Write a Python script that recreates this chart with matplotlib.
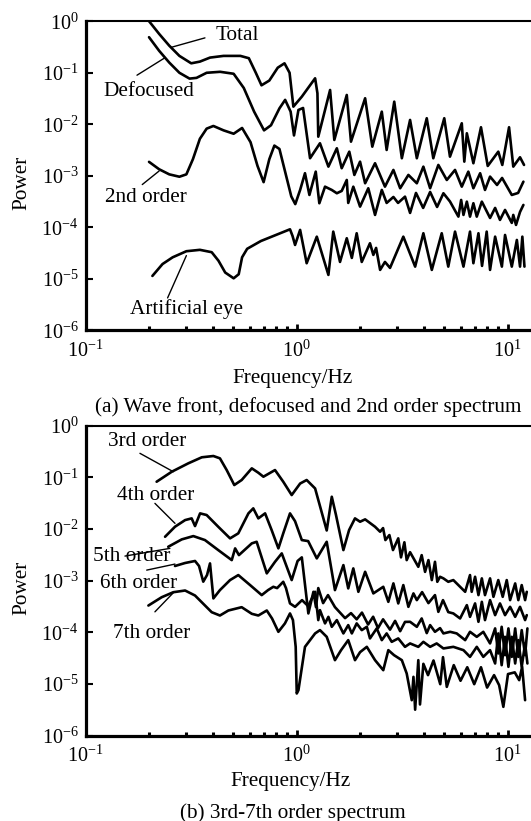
import numpy as np
import matplotlib
matplotlib.use('Agg')
import matplotlib.pyplot as plt
from matplotlib.ticker import LogLocator, NullFormatter, NullLocator

plt.rcParams['font.family'] = ['Liberation Serif', 'DejaVu Serif']
plt.rcParams['mathtext.fontset'] = 'custom'
plt.rcParams['mathtext.rm'] = 'Liberation Serif'
plt.rcParams['mathtext.it'] = 'Liberation Serif:italic'
plt.rcParams['mathtext.bf'] = 'Liberation Serif:bold'

# ---------------- data (log10 frequency / log10 power) ----------
# Panel (a)
total_logf = [-0.715, -0.651, -0.603, -0.555, -0.499, -0.458, -0.410, -0.346, -0.266, -0.226,
              -0.193, -0.166, -0.129, -0.089, -0.057, -0.033, -0.015, 0.025, 0.088, 0.099,
              0.103, 0.159, 0.179, 0.238, 0.258, 0.325, 0.359, 0.404, 0.427, 0.463,
              0.499, 0.538, 0.570, 0.617, 0.648, 0.700, 0.727, 0.783, 0.795, 0.807,
              0.838, 0.874, 0.906, 0.956, 0.975, 1.007, 1.027, 1.059, 1.078]
total_logp = [0.085, -0.245, -0.474, -0.672, -0.816, -0.783, -0.705, -0.672, -0.672, -0.717,
              -1.0, -1.243, -1.151, -0.901, -0.816, -1.0, -1.658, -1.464, -1.107, -1.398,
              -2.241, -1.334, -2.305, -1.431, -2.338, -1.495, -2.435, -1.755, -2.499, -1.561,
              -2.660, -1.916, -2.660, -1.883, -2.660, -1.883, -2.629, -1.981, -2.726, -2.175,
              -2.757, -2.058, -2.810, -2.532, -2.790, -2.058, -2.823, -2.641, -2.790]

defoc_logf = [-0.699, -0.651, -0.603, -0.555, -0.507, -0.474, -0.426, -0.362, -0.298, -0.250,
              -0.201, -0.154, -0.121, -0.081, -0.054, -0.028, -0.012, 0.009, 0.031, 0.064,
              0.111, 0.151, 0.191, 0.214, 0.250, 0.274, 0.301, 0.325, 0.372, 0.419,
              0.459, 0.491, 0.530, 0.570, 0.601, 0.633, 0.672, 0.712, 0.751, 0.783,
              0.814, 0.838, 0.870, 0.893, 0.917, 0.950, 0.974, 1.020, 1.050, 1.075]
defoc_logp = [-0.309, -0.573, -0.802, -1.0, -1.113, -1.099, -1.0, -0.981, -1.019, -1.295,
              -1.755, -2.118, -2.019, -1.691, -1.526, -1.755, -2.217, -1.722, -1.684, -2.660,
              -2.369, -2.823, -2.466, -2.854, -2.532, -2.984, -2.726, -3.146, -2.757, -3.212,
              -2.887, -3.243, -2.984, -3.146, -2.823, -3.243, -2.790, -3.082, -2.887, -3.212,
              -2.920, -3.243, -2.951, -3.276, -3.017, -3.179, -3.043, -3.373, -3.334, -3.115]

ord2_logf = [-0.699, -0.651, -0.603, -0.555, -0.522, -0.491, -0.458, -0.426, -0.394, -0.346,
             -0.298, -0.258, -0.218, -0.185, -0.156, -0.129, -0.105, -0.081, -0.049, -0.025,
             -0.006, 0.017, 0.040, 0.061, 0.091, 0.108, 0.135, 0.167, 0.191, 0.214,
             0.238, 0.245, 0.269, 0.301, 0.340, 0.372, 0.404, 0.427, 0.459, 0.481,
             0.514, 0.538, 0.566, 0.600, 0.633, 0.666, 0.696, 0.727, 0.767, 0.780,
             0.791, 0.807, 0.822, 0.838, 0.854, 0.878, 0.917, 0.941, 0.964, 0.988,
             1.020, 1.027, 1.040, 1.059, 1.075]
ord2_logp = [-2.730, -2.874, -2.973, -3.019, -2.973, -2.678, -2.282, -2.085, -2.033, -2.118,
             -2.184, -2.072, -2.348, -2.808, -3.124, -2.678, -2.414, -2.480, -3.006, -3.400,
             -3.551, -3.276, -2.951, -3.373, -2.920, -3.534, -3.212, -3.276, -3.340, -3.295,
             -3.082, -3.528, -3.212, -3.600, -3.243, -3.761, -3.276, -3.528, -3.412, -3.528,
             -3.406, -3.722, -3.334, -3.625, -3.315, -3.606, -3.340, -3.500, -3.794, -3.470,
             -3.761, -3.503, -3.794, -3.534, -3.794, -3.503, -3.820, -3.625, -3.858, -3.664,
             -3.916, -3.761, -3.955, -3.703, -3.567]

eye_logf = [-0.683, -0.635, -0.587, -0.522, -0.458, -0.402, -0.370, -0.338, -0.298, -0.274,
            -0.258, -0.234, -0.169, -0.089, -0.031, -0.019, -0.007, 0.017, 0.048, 0.096,
            0.151, 0.174, 0.206, 0.238, 0.262, 0.285, 0.309, 0.348, 0.364, 0.377,
            0.396, 0.419, 0.443, 0.506, 0.562, 0.601, 0.641, 0.688, 0.719, 0.751,
            0.791, 0.822, 0.838, 0.862, 0.879, 0.901, 0.917, 0.941, 0.973, 0.988,
            1.020, 1.044, 1.059, 1.070, 1.080]
eye_logp = [-4.946, -4.715, -4.584, -4.466, -4.439, -4.485, -4.650, -4.880, -4.992, -4.913,
            -4.584, -4.419, -4.268, -4.136, -4.040, -4.169, -4.344, -4.052, -4.699, -4.183,
            -4.926, -4.085, -4.674, -4.214, -4.596, -4.117, -4.674, -4.311, -4.538, -4.402,
            -4.829, -4.674, -4.790, -4.183, -4.765, -4.117, -4.829, -4.117, -4.765, -4.085,
            -4.765, -4.085, -4.699, -4.117, -4.751, -4.085, -4.829, -4.183, -4.765, -4.150,
            -4.765, -4.247, -4.765, -4.183, -4.765]

# Panel (b)
ord3_logf = [-0.663, -0.591, -0.513, -0.449, -0.394, -0.363, -0.331, -0.295, -0.260, -0.212,
             -0.181, -0.157, -0.102, -0.063, -0.023, 0.017, 0.048, 0.088, 0.143, 0.167,
             0.187, 0.222, 0.249, 0.277, 0.301, 0.325, 0.372, 0.396, 0.410, 0.421,
             0.440, 0.457, 0.482, 0.495, 0.511, 0.522, 0.538, 0.577, 0.593, 0.609,
             0.625, 0.641, 0.656, 0.667, 0.680, 0.696, 0.719, 0.743, 0.775, 0.799,
             0.822, 0.830, 0.846, 0.862, 0.878, 0.893, 0.917, 0.933, 0.956, 0.977,
             0.996, 1.012, 1.036, 1.051, 1.067, 1.083, 1.091]
ord3_logp = [-1.085, -0.891, -0.729, -0.612, -0.587, -0.632, -0.859, -1.149, -1.052, -0.826,
             -0.911, -0.988, -0.859, -1.085, -1.343, -1.120, -1.052, -1.215, -2.029, -1.376,
             -1.731, -2.409, -2.021, -1.795, -1.860, -1.814, -1.957, -2.054, -1.983, -2.215,
             -2.118, -2.409, -2.182, -2.550, -2.258, -2.603, -2.450, -2.733, -2.507, -2.831,
             -2.603, -2.990, -2.636, -3.023, -2.926, -2.957, -3.023, -2.990, -3.120, -3.217,
             -2.893, -3.217, -2.926, -3.281, -2.957, -3.281, -2.957, -3.314, -2.990, -3.314,
             -2.990, -3.378, -3.055, -3.378, -3.087, -3.378, -3.217]

ord4_logf = [-0.623, -0.576, -0.528, -0.497, -0.481, -0.457, -0.426, -0.371, -0.315, -0.276,
             -0.228, -0.205, -0.181, -0.149, -0.118, -0.086, -0.063, -0.031, -0.007, 0.025,
             0.055, 0.096, 0.143, 0.182, 0.222, 0.245, 0.269, 0.293, 0.325, 0.364,
             0.411, 0.435, 0.459, 0.482, 0.506, 0.530, 0.554, 0.570, 0.595, 0.625,
             0.656, 0.672, 0.694, 0.719, 0.743, 0.775, 0.807, 0.822, 0.846, 0.862,
             0.878, 0.893, 0.917, 0.941, 0.964, 0.988, 1.012, 1.036, 1.059, 1.083, 1.091]
ord4_logp = [-2.151, -1.957, -1.828, -1.795, -1.944, -1.698, -1.730, -1.957, -2.182, -2.085,
             -1.698, -1.601, -1.795, -1.698, -2.021, -2.376, -2.085, -1.698, -1.850, -2.215,
             -2.235, -2.570, -2.248, -3.184, -2.700, -3.151, -2.764, -3.217, -2.829, -3.248,
             -3.120, -3.411, -3.054, -3.442, -3.087, -3.508, -3.248, -3.378, -3.223, -3.436,
             -3.281, -3.605, -3.378, -3.610, -3.636, -3.733, -3.475, -3.702, -3.442, -3.798,
             -3.411, -3.765, -3.378, -3.669, -3.442, -3.669, -3.508, -3.702, -3.508, -3.765, -3.669]

ord5_logf = [-0.608, -0.544, -0.489, -0.434, -0.371, -0.307, -0.291, -0.273, -0.212, -0.189,
             -0.141, -0.102, -0.070, -0.023, 0.005, 0.025, 0.056, 0.080, 0.092, 0.103,
             0.126, 0.149, 0.182, 0.230, 0.258, 0.285, 0.310, 0.339, 0.363, 0.386,
             0.410, 0.443, 0.467, 0.491, 0.514, 0.538, 0.570, 0.593, 0.617, 0.633,
             0.656, 0.680, 0.696, 0.728, 0.759, 0.799, 0.822, 0.854, 0.885, 0.917,
             0.941, 0.956, 0.972, 0.988, 1.004, 1.020, 1.036, 1.051, 1.067, 1.083, 1.094]
ord5_logp = [-2.345, -2.202, -2.138, -2.215, -2.409, -2.603, -2.376, -2.506, -2.279, -2.248,
             -2.860, -2.636, -2.473, -2.990, -2.620, -2.550, -3.636, -3.217, -3.513, -3.145,
             -3.436, -3.281, -3.513, -3.727, -3.630, -3.750, -3.620, -3.850, -3.700, -3.920,
             -3.750, -3.950, -3.780, -3.980, -3.800, -3.798, -3.895, -3.733, -4.017, -3.862,
             -3.992, -3.920, -4.023, -3.992, -4.023, -4.153, -3.992, -4.089, -3.992, -4.217,
             -3.926, -4.411, -3.895, -4.444, -3.926, -4.477, -3.926, -4.477, -3.959, -4.444, -3.926]

ord6_logf = [-0.576, -0.528, -0.481, -0.462, -0.442, -0.424, -0.410, -0.394, -0.363, -0.315,
             -0.276, -0.220, -0.165, -0.135, -0.110, -0.092, -0.063, -0.050, -0.031, -0.007,
             0.026, 0.055, 0.088, 0.103, 0.111, 0.135, 0.151, 0.167, 0.191, 0.222,
             0.245, 0.262, 0.285, 0.309, 0.333, 0.348, 0.380, 0.404, 0.427, 0.451,
             0.482, 0.514, 0.538, 0.577, 0.601, 0.633, 0.664, 0.696, 0.743, 0.791,
             0.822, 0.854, 0.885, 0.917, 0.941, 0.956, 0.972, 0.988, 1.004, 1.020,
             1.036, 1.051, 1.067, 1.083, 1.094]
ord6_logp = [-2.717, -2.659, -2.620, -2.717, -3.021, -2.891, -2.667, -3.345, -3.184, -2.990,
             -2.893, -3.087, -3.281, -3.184, -3.120, -3.145, -3.023, -3.145, -3.442, -3.508,
             -3.378, -3.494, -3.217, -3.765, -3.572, -3.829, -3.702, -3.895, -3.765, -4.023,
             -3.862, -4.023, -3.829, -3.959, -3.895, -4.120, -3.926, -4.153, -4.023, -4.186,
             -4.120, -4.283, -4.217, -4.283, -4.186, -4.283, -4.217, -4.314, -4.283, -4.347,
             -4.477, -4.283, -4.477, -4.347, -4.605, -4.023, -4.638, -4.089, -4.670, -4.089,
             -4.605, -4.153, -4.670, -4.217, -4.605]

ord7_logf = [-0.702, -0.639, -0.584, -0.528, -0.481, -0.402, -0.363, -0.323, -0.260, -0.212,
             -0.181, -0.141, -0.116, -0.086, -0.055, -0.031, -0.017, -0.004, 0.001, 0.009,
             0.040, 0.088, 0.111, 0.143, 0.182, 0.211, 0.245, 0.277, 0.301, 0.333,
             0.372, 0.411, 0.435, 0.462, 0.499, 0.522, 0.546, 0.554, 0.562, 0.577,
             0.585, 0.601, 0.623, 0.649, 0.681, 0.694, 0.712, 0.745, 0.777, 0.809,
             0.842, 0.874, 0.903, 0.936, 0.960, 0.980, 1.002, 1.034, 1.055, 1.069, 1.083]
ord7_logp = [-3.483, -3.322, -3.225, -3.192, -3.289, -3.612, -3.676, -3.579, -3.515, -3.643,
             -3.676, -3.579, -3.734, -3.992, -3.829, -3.636, -3.765, -4.283, -5.186, -5.122,
             -4.283, -4.023, -3.959, -4.089, -4.541, -4.347, -4.153, -4.541, -4.386, -4.283,
             -4.541, -4.735, -4.347, -4.444, -4.541, -4.799, -5.316, -4.864, -5.500, -4.541,
             -5.399, -4.612, -4.831, -4.547, -5.006, -4.483, -5.058, -4.637, -4.940, -4.678,
             -5.006, -4.678, -5.072, -4.831, -5.025, -5.445, -4.810, -4.777, -4.928, -4.670, -5.316]

top_series = [(total_logf, total_logp), (defoc_logf, defoc_logp),
              (ord2_logf, ord2_logp), (eye_logf, eye_logp)]
bot_series = [(ord3_logf, ord3_logp), (ord4_logf, ord4_logp), (ord5_logf, ord5_logp),
              (ord6_logf, ord6_logp), (ord7_logf, ord7_logp)]

ytick_vals = [1e-6, 1e-5, 1e-4, 1e-3, 1e-2, 1e-1, 1e0]

# ---------------- figure ----------------
W, H = 531, 821
fig = plt.figure(figsize=(W / 100, H / 100), dpi=100)
fig.patch.set_facecolor('white')


def px_rect(left, top, bottom, right=W):
    return [left / W, (H - bottom) / H, (right - left) / W, (bottom - top) / H]


ax1 = fig.add_axes(px_rect(85.5, 21.3, 330.2))
ax2 = fig.add_axes(px_rect(85.5, 425.7, 735.5))

LW = 1.9
for ax, series in ((ax1, top_series), (ax2, bot_series)):
    for lf, lp in series:
        ax.plot(10 ** np.asarray(lf), 10 ** np.asarray(lp), color='black', lw=LW,
                solid_joinstyle='round', solid_capstyle='round')
    ax.set_xscale('log')
    ax.set_yscale('log')
    ax.set_xlim(0.1, 10 ** 1.111)
    ax.set_ylim(1e-6, 1.0)
    ax.spines['right'].set_visible(False)
    ax.spines['left'].set_linewidth(2.3)
    ax.spines['bottom'].set_linewidth(2.3)
    ax.spines['top'].set_linewidth(1.5)
    ax.xaxis.set_major_locator(LogLocator(base=10, numticks=10))
    ax.xaxis.set_minor_locator(LogLocator(base=10, subs=np.arange(2, 10), numticks=20))
    ax.xaxis.set_minor_formatter(NullFormatter())
    ax.set_yticks(ytick_vals)
    ax.yaxis.set_minor_locator(NullLocator())
    ax.tick_params(axis='x', which='major', direction='in', length=4, width=2,
                   pad=7.5, labelsize=14.5, top=False)
    ax.tick_params(axis='x', which='minor', direction='in', length=3, width=2.2, top=False)
    ax.tick_params(axis='y', which='major', direction='in', length=5, width=1.5,
                   pad=5, labelsize=14.5, right=False)


def lbl(ax, text, lf, lp, fs=15.3):
    ax.text(10 ** lf, 10 ** lp, text, ha='center', va='center', fontsize=fs)


def leader(ax, a, b):
    ax.annotate('', xy=(10 ** a[0], 10 ** a[1]), xytext=(10 ** b[0], 10 ** b[1]),
                arrowprops=dict(arrowstyle='-', color='black', lw=1.0,
                                shrinkA=0, shrinkB=0))


# panel (a) annotations
lbl(ax1, 'Total', -0.282, -0.278)
leader(ax1, (-0.434, -0.322), (-0.595, -0.507))
lbl(ax1, 'Defocused', -0.699, -1.373)
leader(ax1, (-0.756, -1.047), (-0.627, -0.717))
lbl(ax1, '2nd order', -0.715, -3.431)
leader(ax1, (-0.731, -3.171), (-0.651, -2.907))
lbl(ax1, 'Artificial eye', -0.522, -5.583)
leader(ax1, (-0.611, -5.373), (-0.522, -4.551))

# panel (b) annotations
lbl(ax2, '3rd order', -0.707, -0.314)
leader(ax2, (-0.742, -0.535), (-0.584, -0.891))
lbl(ax2, '4th order', -0.667, -1.351)
leader(ax2, (-0.671, -1.504), (-0.576, -1.891))
lbl(ax2, '5th order', -0.779, -2.525)
leader(ax2, (-0.813, -2.525), (-0.600, -2.376))
lbl(ax2, '6th order', -0.747, -3.058)
leader(ax2, (-0.710, -2.797), (-0.576, -2.680))
lbl(ax2, '7th order', -0.686, -4.021)
leader(ax2, (-0.671, -3.605), (-0.584, -3.236))


def ftext(px, py, s, **kw):
    fig.text(px / W, 1 - py / H, s, ha='center', va='center', fontsize=15.3, **kw)


ftext(22, 183, 'Power', rotation=90)
ftext(293, 379, 'Frequency/Hz')
ftext(308, 407.4, '(a) Wave front, defocused and 2nd order spectrum')
ftext(22, 587.5, 'Power', rotation=90)
ftext(291, 781.5, 'Frequency/Hz')
ftext(293, 812.7, '(b) 3rd-7th order spectrum')

fig.savefig('out.png', dpi=100, facecolor='white')
